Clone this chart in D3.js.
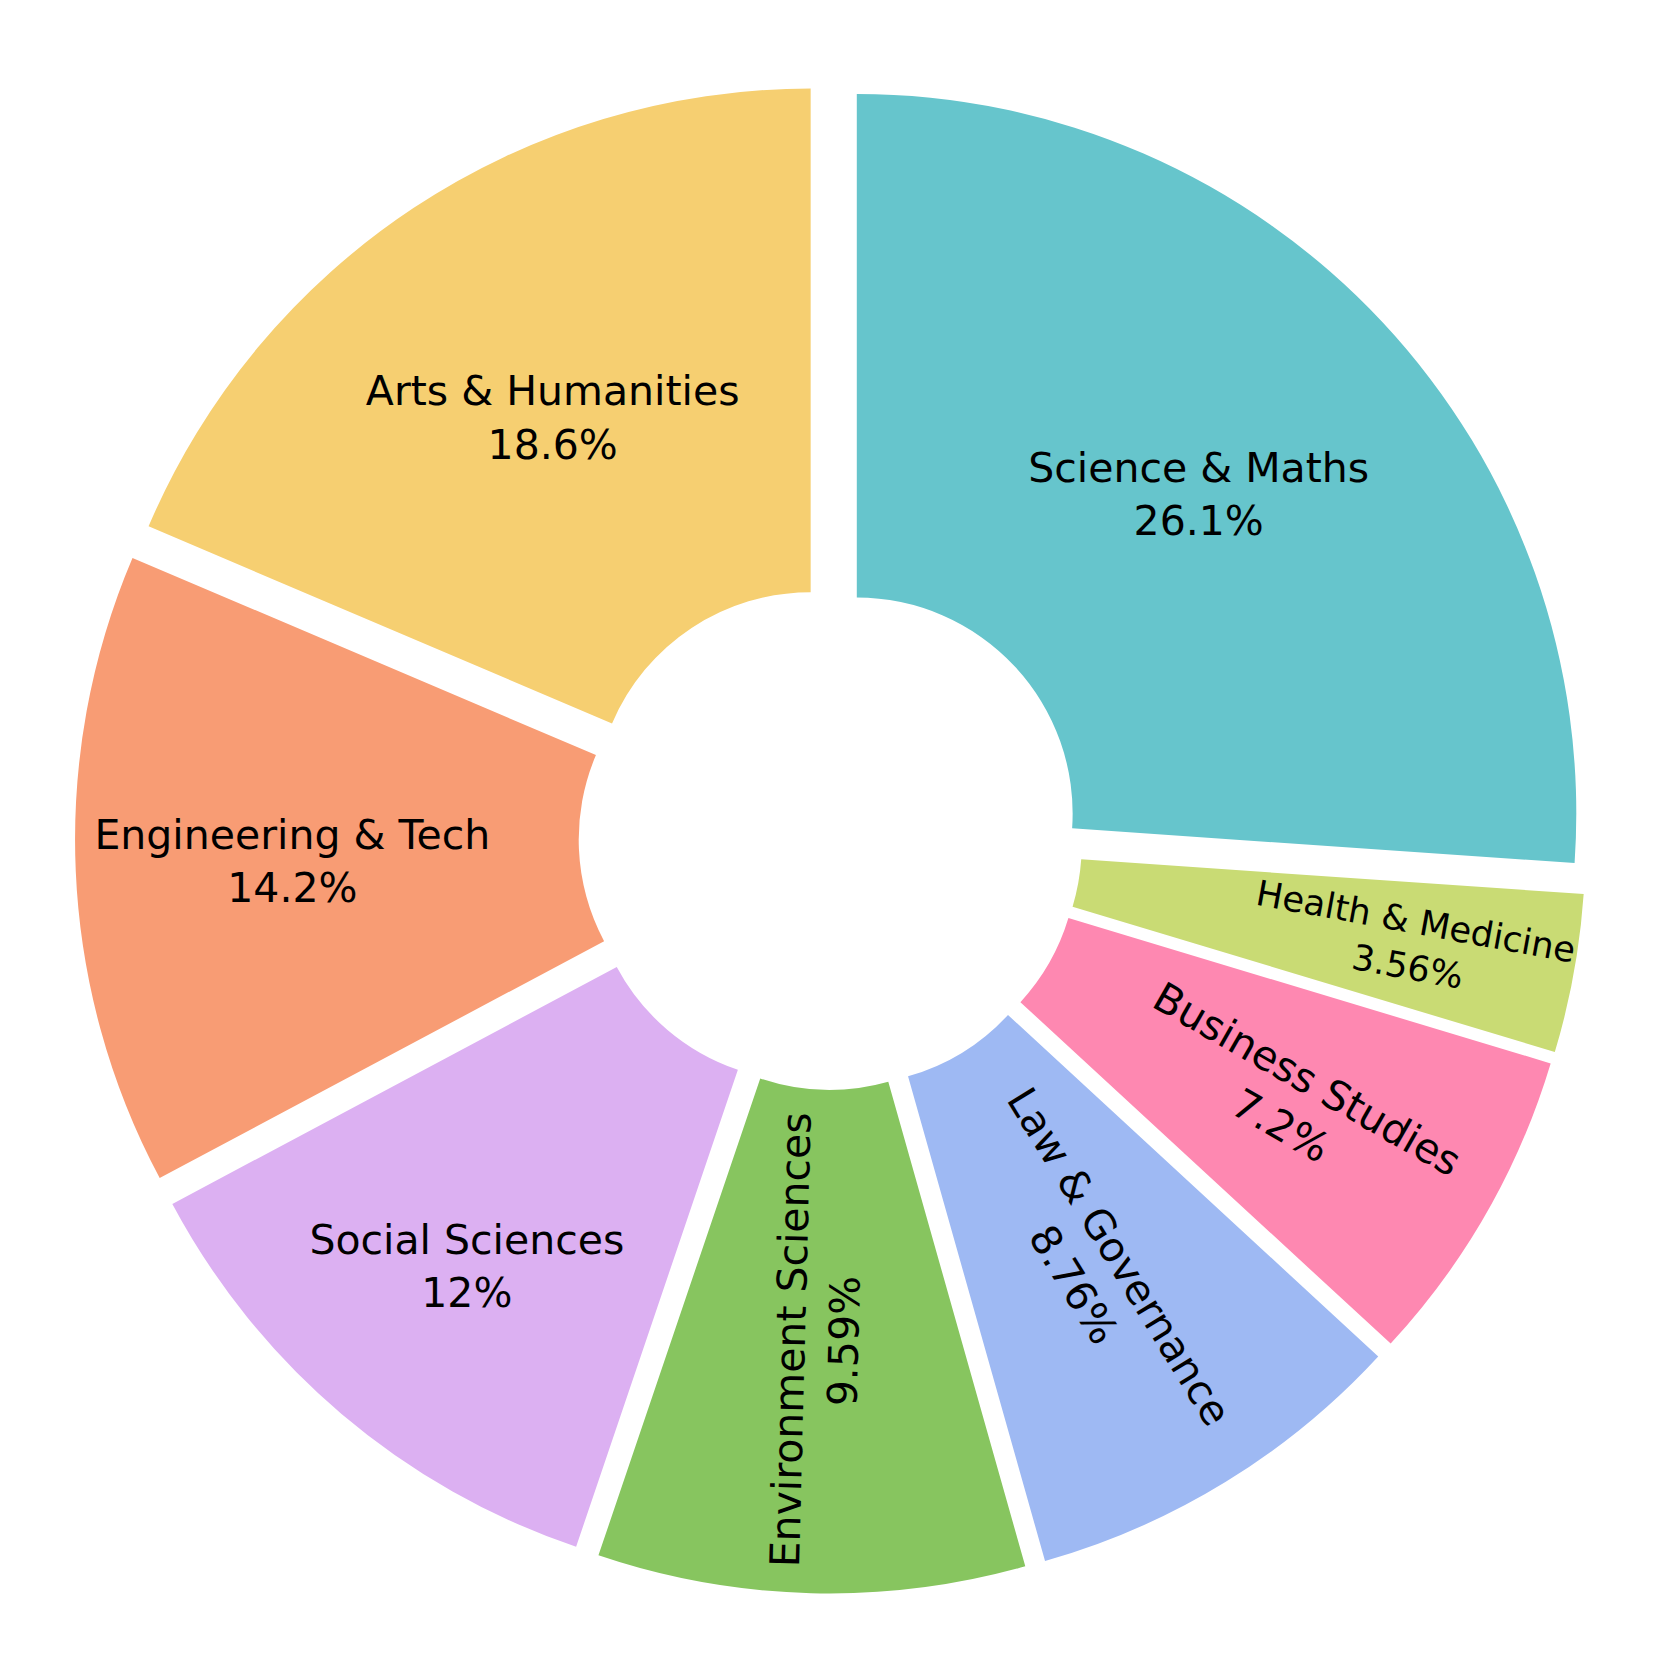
<!DOCTYPE html>
<html>
<head>
<meta charset="utf-8">
<script src="https://cdn.jsdelivr.net/npm/d3@7"></script>
<style>
  body { margin: 0; background: #fff; }
  svg { display: block; }
  text { font-family: "DejaVu Sans", Verdana, sans-serif; }
</style>
</head>
<body>
<div id="chart"></div>
<script>
// slices in clockwise order starting at 12 o'clock
var categories = ["Science & Maths", "Health & Medicine", "Business Studies", "Law & Governance",
	"Environment Sciences", "Social Sciences", "Engineering & Tech", "Arts & Humanities"];
var shares = [26.1, 3.56, 7.2, 8.76, 9.59, 12, 14.2, 18.6];
var colors = ["rgb(102,197,204)", "rgb(201,219,116)", "rgb(254,136,177)", "rgb(158,185,243)",
	"rgb(135,197,95)", "rgb(220,176,242)", "rgb(248,156,116)", "rgb(246,207,113)"];

var width = 1661,
	height = 1661,
	cx = 830.5,
	cy = 838,
	radius = 719.5,
	hole = 0.3,
	pull = 0.05,
	fontSize = 41,
	textPad = 3;

var svg = d3.select("#chart")
	.append("svg")
	.attr("width", width)
	.attr("height", height);

svg.append("rect")
	.attr("width", width)
	.attr("height", height)
	.attr("fill", "#fff");

var total = d3.sum(shares);
var pctFormat = d3.format(".3~r");

var arcs = d3.pie().sort(null)(shares);
var arc = d3.arc()
	.innerRadius(radius * hole)
	.outerRadius(radius);

function midAngle(d) {
	return (d.startAngle + d.endAngle) / 2;
}

// each slice is pulled out along its middle angle
var slices = svg.selectAll("g.slice")
	.data(arcs)
	.enter()
	.append("g")
	.attr("class", "slice")
	.attr("transform", function(d) {
		var m = midAngle(d);
		return "translate(" + (cx + pull * radius * Math.sin(m)) + "," + (cy - pull * radius * Math.cos(m)) + ")";
	});

slices.append("path")
	.attr("d", arc)
	.attr("fill", function(d, i) {
		return colors[i];
	});

// fitting of text inside a donut slice (horizontal, radial or tangential)
function rotateFor(t) {
	return (180 / Math.PI * t + 720) % 180 - 90;
}

function maxHalfSize(a, halfAngle, r, ring) {
	var q = a + 1 / (2 * Math.tan(halfAngle));
	return r * Math.min(
		1 / (Math.sqrt(q * q + 0.5) + q),
		ring / (Math.sqrt(a * a + ring / 2) + a)
	);
}

function insideTransform(w, h, d) {
	var frac = d.value / total;
	var halfAngle = Math.PI * Math.min(frac, 0.5);
	var mid = midAngle(d);
	var ring = 1 - hole;
	var rIns = Math.min(1 / (1 + 1 / Math.sin(halfAngle)), ring / 2);
	var all = [];

	var t = {
		scale: rIns * radius * 2 / Math.sqrt(w * w + h * h),
		rCenter: 1 - rIns,
		rotate: 0
	};
	if (t.scale >= 1) return t;
	all.push(t);

	var r = radius - 2 * textPad;
	var a = w / h;
	var s = maxHalfSize(a, halfAngle, r, ring);
	all.push({
		scale: s * 2 / h,
		rCenter: Math.cos(s / r) - a * s / r,
		rotate: rotateFor(mid)
	});

	a = h / w;
	s = maxHalfSize(a, halfAngle, r, ring);
	all.push({
		scale: s * 2 / w,
		rCenter: Math.cos(s / r) - a * s / r,
		rotate: rotateFor(mid + Math.PI / 2)
	});

	var best = all[0];
	all.forEach(function(c) {
		if (c.scale > best.scale) best = c;
	});
	return best;
}

slices.each(function(d, i) {
	var g = d3.select(this);
	var text = g.append("text")
		.attr("text-anchor", "middle")
		.style("font-size", fontSize + "px")
		.style("fill", "#000");
	text.append("tspan")
		.attr("x", 0)
		.attr("dy", 0)
		.text(categories[i]);
	text.append("tspan")
		.attr("x", 0)
		.attr("dy", "1.3em")
		.text(pctFormat(d.value / total * 100) + "%");

	var bb = text.node().getBBox();
	var tr = insideTransform(bb.width, bb.height, d);
	var m = midAngle(d);
	var tx = tr.rCenter * radius * Math.sin(m),
		ty = -tr.rCenter * radius * Math.cos(m);
	var sc = Math.min(1, tr.scale);

	text.attr("transform",
		"translate(" + tx + "," + ty + ") rotate(" + tr.rotate + ") scale(" + sc + ") translate(" +
		(-(bb.x + bb.width / 2)) + "," + (-(bb.y + bb.height / 2)) + ")");
});
</script>
</body>
</html>
